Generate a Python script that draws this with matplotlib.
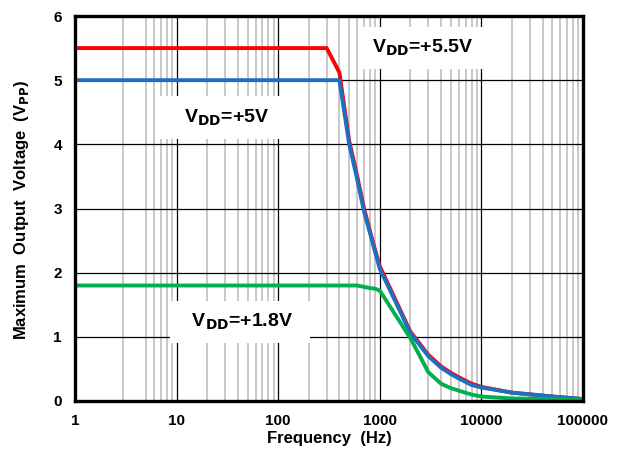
import numpy as np
import matplotlib
matplotlib.use("Agg")
import matplotlib.pyplot as plt
from matplotlib.ticker import FixedLocator, NullFormatter

plt.rcParams['font.family'] = ['Liberation Sans', 'DejaVu Sans']
plt.rcParams['font.weight'] = 'bold'

# frequency sweep (Hz) and max output swing (Vpp) per supply
freq_55 = [1, 10, 100, 300, 400, 500, 600, 700, 800, 900, 1000, 2000, 3000,
           4000, 5000, 6000, 8000, 10000, 20000, 50000, 100000]
vpp_55 = [5.5, 5.5, 5.5, 5.5, 5.12, 4.05, 3.5, 3.0, 2.65, 2.35, 2.1, 1.08, 0.72,
          0.54, 0.44, 0.37, 0.27, 0.22, 0.13, 0.07, 0.03]

freq_5 = [1, 10, 100, 400, 500, 600, 700, 800, 900, 1000, 2000, 3000,
          4000, 5000, 6000, 8000, 10000, 20000, 50000, 100000]
vpp_5 = [5.0, 5.0, 5.0, 5.0, 4.0, 3.45, 2.95, 2.62, 2.32, 2.06, 1.06, 0.7,
         0.52, 0.42, 0.35, 0.25, 0.21, 0.13, 0.07, 0.03]

freq_18 = [1, 10, 100, 600, 800, 900, 1000, 2000, 3000, 4000, 5000, 8000,
           10000, 20000, 50000, 100000]
vpp_18 = [1.8, 1.8, 1.8, 1.8, 1.76, 1.75, 1.72, 0.98, 0.45, 0.27, 0.2, 0.1,
          0.07, 0.04, 0.03, 0.02]

x_ticks = [1, 10, 100, 1000, 10000, 100000]
x_labels = ['1', '10', '100', '1000', '10000', '100000']
y_ticks = [0, 1, 2, 3, 4, 5, 6]

fig = plt.figure(figsize=(6.26, 4.55), dpi=100)
ax = fig.add_axes([75 / 626, 1 - 401 / 455, 508 / 626, 385 / 455])

ax.plot(freq_55, vpp_55, color='#FF0000', lw=2.8, zorder=4)
ax.plot(freq_5, vpp_5, color='#1F6FC0', lw=2.8, zorder=5)
ax.plot(freq_18, vpp_18, color='#00B050', lw=2.8, zorder=6)

ax.set_xscale('log')
ax.set_xlim(1, 100000)
ax.set_ylim(0, 6)

# minor grid: 2..9 per decade, first decade starts at 3 and skips 4
minor = [m * 10 ** d for d in range(5) for m in range(2, 10)]
minor = [v for v in minor if v not in (2, 4)]
ax.xaxis.set_major_locator(FixedLocator(x_ticks))
ax.xaxis.set_minor_locator(FixedLocator(minor))
ax.xaxis.set_minor_formatter(NullFormatter())
ax.set_xticklabels(x_labels)
ax.set_yticks(y_ticks)

ax.grid(which='minor', axis='x', color='#C8C8C8', lw=1.4, zorder=1)
ax.grid(which='major', axis='both', color='black', lw=0.9, zorder=2)
ax.set_axisbelow(True)

ax.tick_params(which='both', length=0, labelsize=11, pad=9.5)
for lab in ax.get_xticklabels() + ax.get_yticklabels():
    lab.set_fontweight('bold')

for s in ax.spines.values():
    s.set_linewidth(2.4)
    s.set_color('black')
    s.set_zorder(10)

fig.text(329 / 626, 1 - 438 / 455, 'Frequency  (Hz)', fontsize=12,
         fontweight='bold', ha='center', va='center')
fig.text(22 / 626, 1 - 209.5 / 455,
         'Maximum  Output  Voltage  (V$_{\\mathbf{PP}}$)', fontsize=12,
         fontweight='bold', rotation=90, ha='center', va='center')

box = dict(facecolor='white', edgecolor='none', pad=8)
ax.text(2630, 5.5, 'V$_{\\mathbf{DD}}$=+5.5V', fontsize=14, fontweight='bold',
        ha='center', va='center', bbox=box, zorder=3)
ax.text(29, 4.42, '   V$_{\\mathbf{DD}}$=+5V   ', fontsize=14,
        fontweight='bold', ha='center', va='center', bbox=box, zorder=3)
ax.text(42, 1.23, '  V$_{\\mathbf{DD}}$=+1.8V  ', fontsize=14,
        fontweight='bold', ha='center', va='center', bbox=box, zorder=3)

fig.savefig('out.png', dpi=100)
